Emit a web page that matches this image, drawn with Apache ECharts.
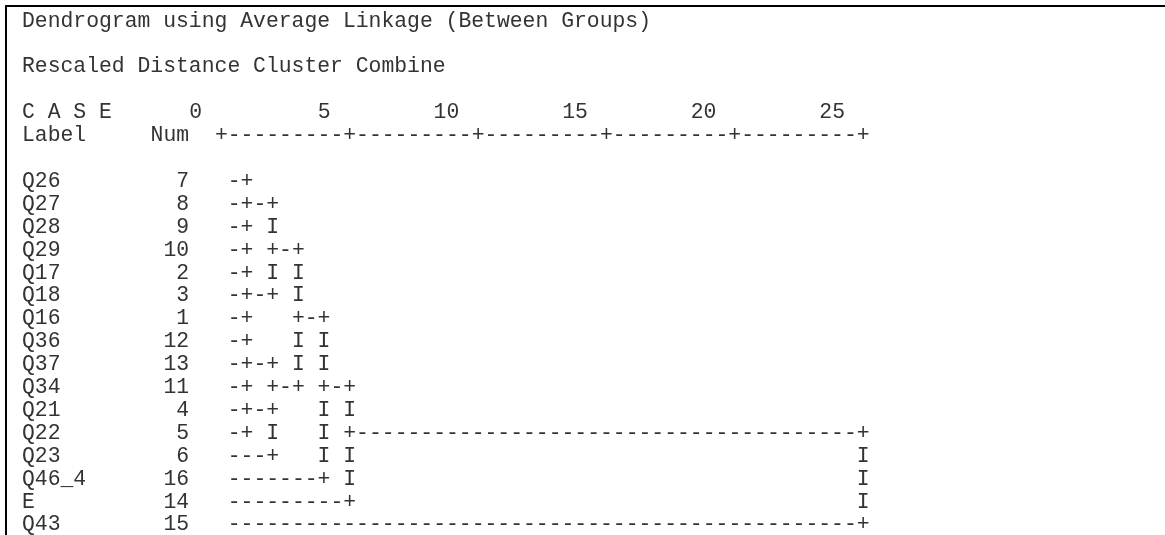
<!DOCTYPE html>
<html>
<head>
<meta charset="utf-8">
<script src="https://cdn.jsdelivr.net/npm/echarts@6/dist/echarts.min.js"></script>
<style>
  html, body { margin: 0; padding: 0; background: #fff; }
  #chart { width: 1165px; height: 535px; }
</style>
</head>
<body>
<div id="chart"></div>
<script>
const chart = echarts.init(document.getElementById("chart"));

const TITLE = "Dendrogram using Average Linkage (Between Groups)";
const SUBTITLE = "Rescaled Distance Cluster Combine";

// case labels and case numbers, in dendrogram order
const caseLabels = ["Q26", "Q27", "Q28", "Q29", "Q17", "Q18", "Q16", "Q36", "Q37", "Q34", "Q21", "Q22", "Q23", "Q46_4", "E", "Q43"];
const caseNums = [7, 8, 9, 10, 2, 3, 1, 12, 13, 11, 4, 5, 6, 16, 14, 15];

// rescaled distance ticks
const distTicks = [0, 5, 10, 15, 20, 25];

// tree drawing per case row: left part (up to distance 5)
const treeLeft = ["-+", "-+-+", "-+ I", "-+ +-+", "-+ I I", "-+-+ I", "-+   +-+", "-+   I I",
  "-+-+ I I", "-+ +-+ +-+", "-+-+   I I", "-+ I   I +", "---+   I I", "-------+ I", "---------+", "-"];
// final merge column at distance 25
const treeRight = ["", "", "", "", "", "", "", "", "", "", "", "+", "I", "I", "I", "+"];

// monospace columns: distance d sits at column 15 + 2d
const col = d => 15 + 2 * d;

// axis line +---------+---------+...
let axisLine = "+";
for (let i = 1; i < distTicks.length; i++) {
  axisLine += "-".repeat(col(distTicks[i]) - col(distTicks[i - 1]) - 1) + "+";
}

const rows = []; // [column, line, text, align]
rows.push([0, 0, TITLE, "left"]);
rows.push([0, 2, SUBTITLE, "left"]);
rows.push([0, 4, "C A S E", "left"]);
distTicks.forEach(t => rows.push([col(t) - 1, 4, String(t), "right"]));
rows.push([0, 5, "Label", "left"]);
rows.push([10, 5, "Num", "left"]);
rows.push([col(0), 5, axisLine, "left"]);

caseLabels.forEach((lab, i) => {
  const line = 7 + i;
  rows.push([0, line, lab, "left"]);
  rows.push([13, line, String(caseNums[i]), "right"]);
  const right = treeRight[i];
  const fill = right === "+" ? "-" : " ";
  const text = right ? treeLeft[i].padEnd(col(25) - 16, fill) + right : treeLeft[i];
  rows.push([16, line, text, "left"]);
});

const FONT_SIZE = 21.4;
const frame = { show: true, onZero: false, lineStyle: { color: "#000", width: 2 } };

chart.setOption({
  backgroundColor: "#fff",
  animation: false,
  grid: { left: 6, top: 6, right: 0, bottom: 0, outerBoundsMode: "none", containLabel: false },
  xAxis: {
    type: "value", min: -1.244, max: 88.88, position: "top",
    axisLine: frame, axisTick: { show: false }, axisLabel: { show: false }, splitLine: { show: false }
  },
  yAxis: {
    type: "value", min: -0.655, max: 22.445, inverse: true, position: "left",
    axisLine: frame, axisTick: { show: false }, axisLabel: { show: false }, splitLine: { show: false }
  },
  series: [{
    type: "custom",
    clip: false,
    data: rows,
    renderItem: (params, api) => {
      const r = rows[params.dataIndex];
      const p = api.coord([r[0], r[1]]);
      return {
        type: "text",
        style: {
          text: r[2],
          x: p[0],
          y: p[1],
          align: r[3],
          verticalAlign: "middle",
          fontFamily: "Liberation Mono",
          fontSize: FONT_SIZE,
          fill: "#333"
        }
      };
    }
  }]
});
</script>
</body>
</html>
